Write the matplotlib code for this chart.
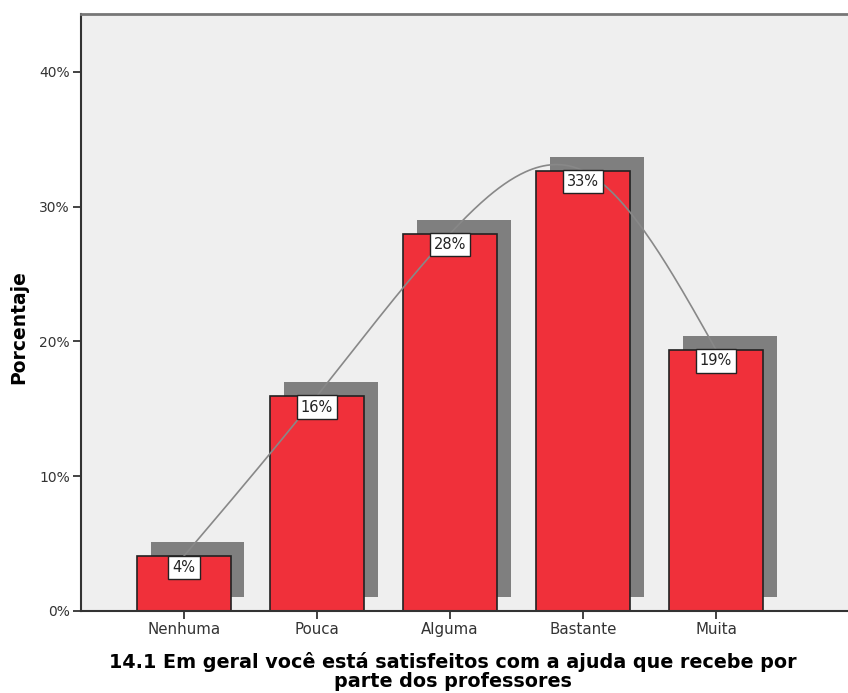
import numpy as np
from matplotlib import pyplot as plt

categories = ["Nenhuma", "Pouca", "Alguma", "Bastante", "Muita"]
percent = [4.08, 15.96, 27.99, 32.67, 19.38]
value_labels = ["4%", "16%", "28%", "33%", "19%"]
yticks = [0, 10, 20, 30, 40]
ytick_labels = ["0%", "10%", "20%", "30%", "40%"]


def natural_spline(x, y, xs):
    # natural cubic spline through the bar tops (interpolation line)
    x = np.asarray(x, float)
    y = np.asarray(y, float)
    n = len(x)
    h = np.diff(x)
    A = np.zeros((n, n))
    b = np.zeros(n)
    A[0, 0] = 1
    A[-1, -1] = 1
    for i in range(1, n - 1):
        A[i, i - 1] = h[i - 1]
        A[i, i] = 2 * (h[i - 1] + h[i])
        A[i, i + 1] = h[i]
        b[i] = 3 * ((y[i + 1] - y[i]) / h[i] - (y[i] - y[i - 1]) / h[i - 1])
    c = np.linalg.solve(A, b)
    out = np.empty_like(xs)
    for k, xv in enumerate(xs):
        i = min(max(np.searchsorted(x, xv) - 1, 0), n - 2)
        dx = xv - x[i]
        bi = (y[i + 1] - y[i]) / h[i] - h[i] * (2 * c[i] + c[i + 1]) / 3
        di = (c[i + 1] - c[i]) / (3 * h[i])
        out[k] = y[i] + bi * dx + c[i] * dx ** 2 + di * dx ** 3
    return out


fig = plt.figure(figsize=(8.48, 6.93), dpi=100)
ax = fig.add_axes([81 / 848, 82 / 693, 1 - 81 / 848, 597 / 693])
ax.set_facecolor("#efefef")

pos = np.arange(len(categories))
width = 0.70
dx_shadow = 0.105
dy_shadow = 1.04

# shadows
ax.bar(pos + dx_shadow, np.array(percent), width=width, bottom=dy_shadow,
       color="#7f7f7f", edgecolor="none", zorder=1)
# bars
ax.bar(pos, percent, width=width, color="#f0303a", edgecolor="#222222",
       linewidth=1.2, zorder=2)

xs = np.linspace(0, 4, 300)
ax.plot(xs, natural_spline(pos, percent, xs), color="#888888", linewidth=1.2, zorder=3)

for p, v, lab in zip(pos, percent, value_labels):
    ax.annotate(lab, (p, v), xytext=(0, -2.6), textcoords="offset points",
                ha="center", va="top", fontsize=10.5, color="#222222", zorder=4,
                bbox=dict(boxstyle="square,pad=0.28", facecolor="white",
                          edgecolor="#222222", linewidth=1))

ax.set_xlim(-0.774, 4.992)
ax.set_ylim(0, 44.3)
ax.set_xticks(pos)
ax.set_xticklabels(categories, fontsize=10.8, color="#333333")
ax.set_yticks(yticks)
ax.set_yticklabels(ytick_labels, fontsize=10, color="#333333")
ax.tick_params(axis="both", length=6, width=1.2, color="#222222", pad=2)

for side in ["left", "bottom"]:
    ax.spines[side].set_color("#333333")
    ax.spines[side].set_linewidth(1.5)
ax.spines["top"].set_color("#777777")
ax.spines["top"].set_linewidth(2)
ax.spines["right"].set_visible(False)

ax.set_ylabel("Porcentaje", fontsize=13.5, fontweight="bold")
ax.yaxis.set_label_coords(-0.069, 0.476)
ax.set_xlabel("14.1 Em geral você está satisfeitos com a ajuda que recebe por\nparte dos professores",
              fontsize=13.8, fontweight="bold", linespacing=1.0)
ax.xaxis.set_label_coords(0.485, -0.068)
ax.xaxis.label.set_verticalalignment("top")

fig.savefig("out.png", dpi=100)
